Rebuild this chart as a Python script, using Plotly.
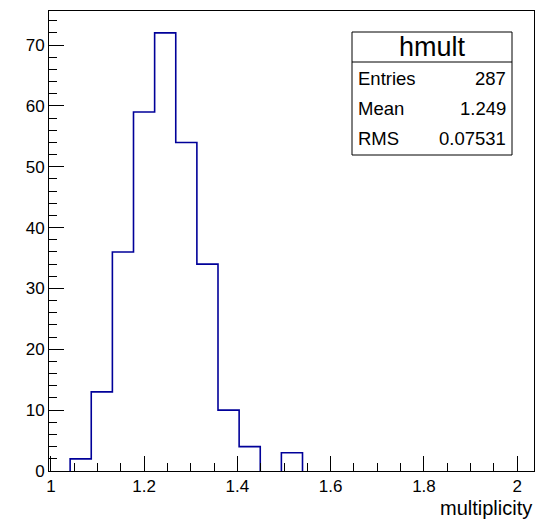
import plotly.graph_objects as go

# Histogram definition
x_low = 0.996
bin_width = 0.0453
counts = [0, 2, 13, 36, 59, 72, 54, 34, 10, 4, 0, 3, 0, 0, 0, 0, 0, 0, 0, 0, 0, 0, 0]
x_range = [0.996, 2.036]
y_range = [0, 75.6]
x_tickvals = [1, 1.2, 1.4, 1.6, 1.8, 2]
x_ticktext = ["1", "1.2", "1.4", "1.6", "1.8", "2"]
y_tickvals = [0, 10, 20, 30, 40, 50, 60, 70]
stats_title = "hmult"
stats_names = ["Entries", "Mean", "RMS"]
stats_values = ["287", "1.249", "0.07531"]
x_title = "multiplicity"

edges = [x_low + i * bin_width for i in range(len(counts) + 1)]

# outline of contiguous non-empty runs (empty bins lie on the axis)
runs = []
cur = []
for i, c in enumerate(counts):
    if c > 0:
        cur.append(i)
    elif cur:
        runs.append(cur)
        cur = []
if cur:
    runs.append(cur)
xs, ys = [], []
for run in runs:
    a, b = run[0], run[-1]
    xs += [edges[a]] + edges[a:b + 2] + [None]
    ys += [0] + counts[a:b + 1] + [0] + [None]

FONT = "Liberation Sans, Arial, sans-serif"
LINE = "#000099"

fig = go.Figure()
fig.add_trace(go.Scatter(x=xs, y=ys, mode="lines", line=dict(shape="hv", color=LINE, width=1.6),
                         connectgaps=False, hoverinfo="skip", showlegend=False))

axis_common = dict(showgrid=False, zeroline=False, showline=True, linecolor="black", linewidth=1,
                   mirror=True, ticks="inside", tickcolor="black", tickwidth=1, ticklen=15,
                   tickfont=dict(family=FONT, size=17, color="black"))
fig.update_xaxes(range=x_range, tickvals=x_tickvals, ticktext=x_ticktext,
                 minor=dict(ticks="inside", dtick=0.05, tick0=1, ticklen=8, tickcolor="black", showgrid=False),
                 **axis_common)
fig.update_yaxes(range=y_range, tickvals=y_tickvals,
                 minor=dict(ticks="inside", dtick=2, tick0=0, ticklen=8, tickcolor="black", showgrid=False),
                 **axis_common)

W, H = 546, 519
L, R, T, B = 49, 12, 11, 48
pw, ph = W - L - R, H - T - B

def px(xp):
    return (xp - L) / pw

def py(yp):
    return (H - B - yp) / ph

# stats box
bx0, bx1, by0, by1, bdiv = 352, 512, 32, 155, 62
fig.add_shape(type="rect", xref="paper", yref="paper", x0=px(bx0), x1=px(bx1), y0=py(by1), y1=py(by0),
              line=dict(color="black", width=1), fillcolor="white", layer="above")
fig.add_shape(type="line", xref="paper", yref="paper", x0=px(bx0), x1=px(bx1), y0=py(bdiv), y1=py(bdiv),
              line=dict(color="black", width=1), layer="above")
fig.add_annotation(x=px((bx0 + bx1) / 2), y=py(47), xref="paper", yref="paper", text=stats_title,
                   showarrow=False, xanchor="center", yanchor="middle",
                   font=dict(family=FONT, size=27, color="black"))
row_y = [78, 108, 139]
for name, val, ry in zip(stats_names, stats_values, row_y):
    fig.add_annotation(x=px(bx0 + 4), y=py(ry), xref="paper", yref="paper", text=name, showarrow=False,
                       xanchor="left", yanchor="middle", font=dict(family=FONT, size=18.5, color="black"))
    fig.add_annotation(x=px(bx1 - 4), y=py(ry), xref="paper", yref="paper", text=val, showarrow=False,
                       xanchor="right", yanchor="middle", font=dict(family=FONT, size=18.5, color="black"))

fig.add_annotation(x=1, y=py(508), xref="paper", yref="paper", text=x_title, showarrow=False,
                   xanchor="right", yanchor="middle", font=dict(family=FONT, size=20, color="black"))

fig.update_layout(width=W, height=H, margin=dict(l=L, r=R, t=T, b=B, autoexpand=False),
                  paper_bgcolor="white", plot_bgcolor="white")
fig.write_html("out.html")
